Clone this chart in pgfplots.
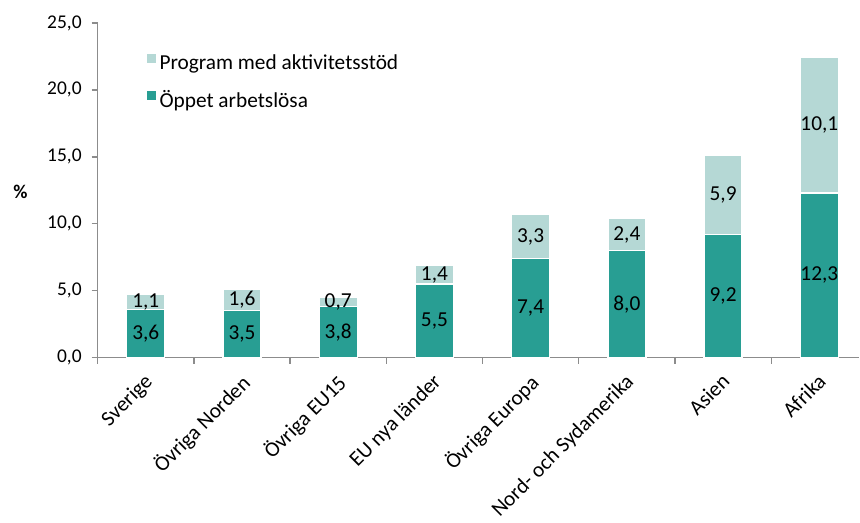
\documentclass[border=0pt]{standalone}
\usepackage{pgfplots}
\pgfplotsset{compat=1.18}
\usepackage{pgfplotstable}
\usepackage{fontspec}
\setmainfont{Carlito}

\definecolor{oppet}{HTML}{289E93}
\definecolor{program}{HTML}{B5D8D5}
\definecolor{axisgrey}{HTML}{8C8C8C}

% region, open unemployed, in programmes
\pgfplotstableread{
x open prog
0 3.6 1.1
1 3.5 1.6
2 3.8 0.7
3 5.5 1.4
4 7.4 3.3
5 8.0 2.4
6 9.2 5.9
7 12.3 10.1
}\arbdata
% label heights: middle of each stacked segment
\pgfplotstablecreatecol[expr={\thisrow{open}/2}]{openmid}{\arbdata}
\pgfplotstablecreatecol[expr={\thisrow{open}+\thisrow{prog}/2}]{progmid}{\arbdata}

\newcommand{\chartfont}{\fontsize{14.6}{17.5}\selectfont}
\newcommand{\bigfont}{\fontsize{16}{19}\selectfont}

\pgfplotsset{
    arbaxis/.style={
        scale only axis,
        width=571.7pt,
        height=251.2pt,
        xmin=-0.5, xmax=7.416,
        ymin=0, ymax=25,
    },
}

\begin{document}
\begin{tikzpicture}[font=\chartfont]
\begin{axis}[
    arbaxis,
    ybar stacked,
    bar width=28.5pt,
    ytick={0,5,...,25},
    xtick={0,...,7},
    xticklabels={Sverige,Övriga Norden,Övriga EU15,EU nya länder,Övriga Europa,Nord- och Sydamerika,Asien,Afrika},
    minor xtick={-0.5,0.5,...,6.5},
    axis x line*=bottom,
    axis y line*=left,
    axis line style={axisgrey, line width=1pt, -},
    every tick/.style={axisgrey, line width=1pt},
    major x tick style={draw=none},
    tick align=outside,
    major tick length=4.5pt,
    minor tick length=4.5pt,
    /pgf/number format/.cd, use comma, fixed, fixed zerofill, precision=1,
        assume math mode=true,
    /pgfplots/.cd,
    xticklabel style={font=\bigfont, xshift=-2pt, yshift=-5pt, rotate=45, anchor=north east, inner sep=1pt},
    yticklabel style={xshift=-4pt},
    ylabel={\textbf{\%}},
    ylabel style={rotate=-90, at={(axis description cs:-0.1015,0.496)}, anchor=center},
    legend style={draw=none, fill=none, font=\bigfont,
        at={(axis description cs:0.0625,0.914)}, anchor=north west,
        row sep=10pt, inner sep=0pt,
        /tikz/every even column/.append style={column sep=4.5pt}},
    legend cell align=left,
    reverse legend,
    legend image code/.code={\fill[#1] (0pt,-0.5pt) rectangle (7.5pt,7pt);},
]
\addplot+[fill=oppet, draw=white, line width=1pt] table[x=x, y=open] {\arbdata};
\addlegendentry{Öppet arbetslösa}
\addplot+[fill=program, draw=white, line width=1pt] table[x=x, y=prog] {\arbdata};
\addlegendentry{Program med aktivitetsstöd}
\end{axis}
% value labels, centred in each segment
\begin{axis}[
    arbaxis,
    hide axis,
    /pgf/number format/.cd, use comma, fixed, fixed zerofill, precision=1,
        assume math mode=true,
    /pgfplots/.cd,
    nodes near coords,
    point meta=explicit,
    every node near coord/.append style={font=\bigfont, text=black, anchor=center, inner sep=0pt},
]
\addplot[only marks, mark=none] table[x=x, y=openmid, meta=open] {\arbdata};
\addplot[only marks, mark=none] table[x=x, y=progmid, meta=prog] {\arbdata};
\end{axis}
\path ([xshift=-73.3pt, yshift=-120.75pt]current axis.south west) rectangle ([yshift=17.25pt]current axis.north east);
\end{tikzpicture}
\end{document}
